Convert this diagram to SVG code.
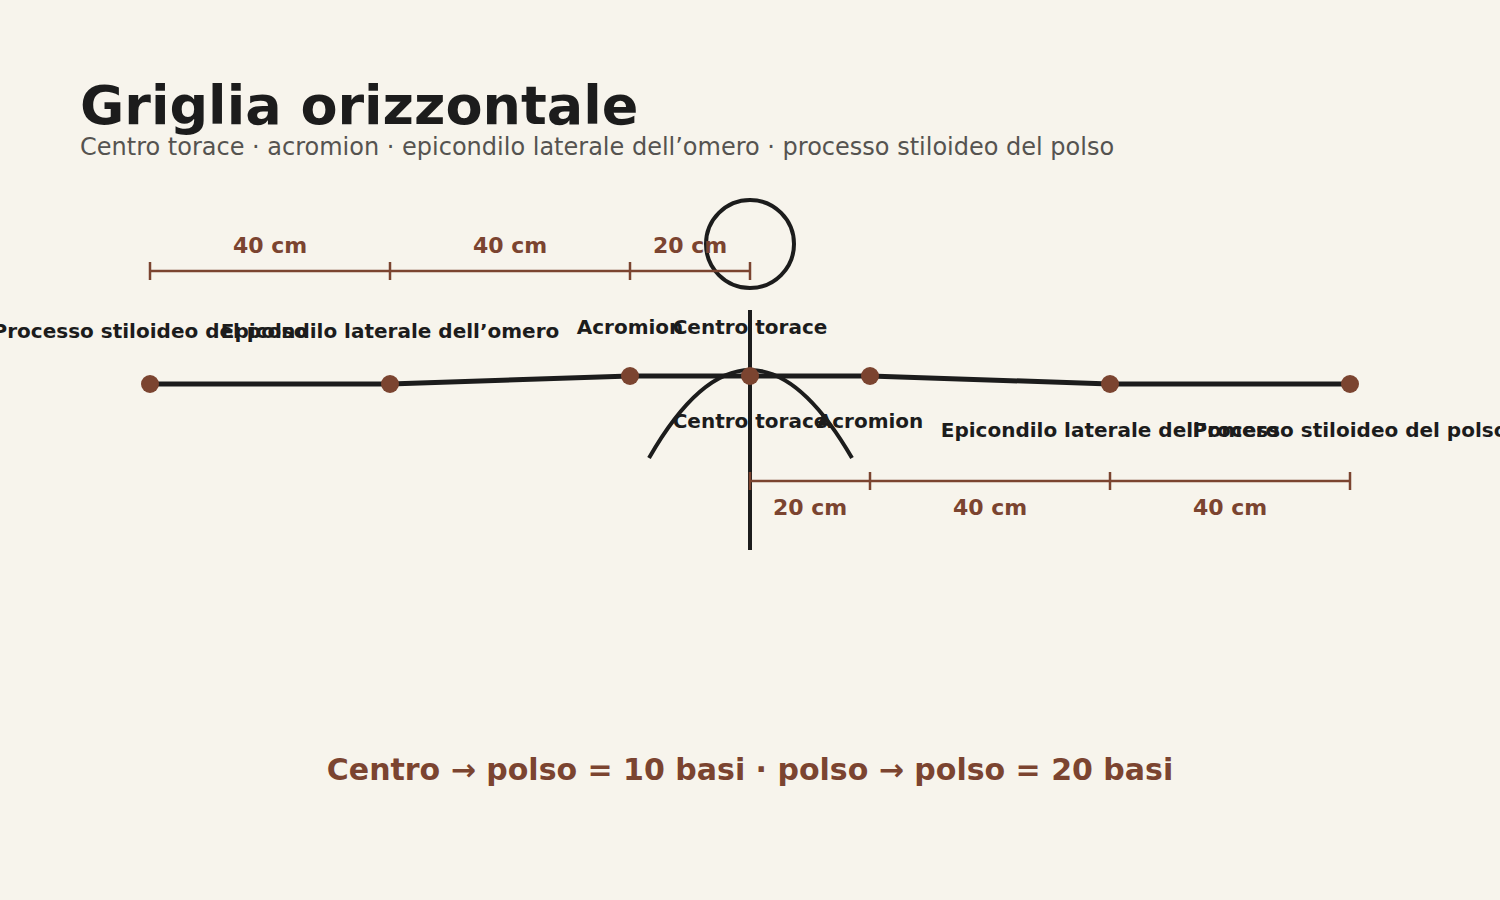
<svg xmlns="http://www.w3.org/2000/svg" width="1500" height="900" viewBox="0 0 1500 900">
<style>
.bg{fill:#f7f4ec}
.title{font-family:"DejaVu Sans",sans-serif;font-weight:bold;font-size:54px;fill:#1c1c1c}
.sub{font-family:"DejaVu Sans",sans-serif;font-size:24px;fill:#555350}
.lbl{font-family:"DejaVu Sans",sans-serif;font-weight:bold;font-size:20px;fill:#1c1c1c;text-anchor:middle}
.dim{font-family:"DejaVu Sans",sans-serif;font-weight:bold;font-size:22px;fill:#7b4430;text-anchor:middle}
.foot{font-family:"DejaVu Sans",sans-serif;font-weight:bold;font-size:30px;fill:#7b4430;text-anchor:middle}
.body{fill:none;stroke:#1c1c1c;stroke-width:4}
.arm{fill:none;stroke:#1c1c1c;stroke-width:5;stroke-linejoin:round}
.scale{fill:none;stroke:#7b4430;stroke-width:2.5}
.dot{fill:#7b4430}
</style>
<rect class="bg" x="0" y="0" width="1500" height="900"/>
<text class="title" x="80" y="124">Griglia orizzontale</text>
<text class="sub" x="80" y="155">Centro torace · acromion · epicondilo laterale dell’omero · processo stiloideo del polso</text>
<g id="figure">
<circle class="body" cx="750" cy="244" r="44" stroke-width="3.5"/>
<line class="body" x1="750" y1="310" x2="750" y2="550"/>
<path class="body" d="M649,458 Q750,282 852,458" stroke-width="3.5"/>
</g>
<g id="connectors">
<polyline class="arm" points="150,384 390,384 630,376 750,376 870,376 1110,384 1350,384"/>
<g id="scale-top">
<path class="scale" d="M150,271 H750 M150,262 V280 M390,262 V280 M630,262 V280 M750,262 V280"/>
<text class="dim" x="270" y="253">40 cm</text>
<text class="dim" x="510" y="253">40 cm</text>
<text class="dim" x="690" y="253">20 cm</text>
</g>
<g id="scale-bottom">
<path class="scale" d="M750,481 H1350 M750,472 V490 M870,472 V490 M1110,472 V490 M1350,472 V490"/>
<text class="dim" x="810" y="515">20 cm</text>
<text class="dim" x="990" y="515">40 cm</text>
<text class="dim" x="1230" y="515">40 cm</text>
</g>
</g>
<g id="n-polso-l"><circle class="dot" cx="150" cy="384" r="9"/><text class="lbl" x="150" y="338">Processo stiloideo del polso</text></g>
<g id="n-epi-l"><circle class="dot" cx="390" cy="384" r="9"/><text class="lbl" x="390" y="338">Epicondilo laterale dell’omero</text></g>
<g id="n-acr-l"><circle class="dot" cx="630" cy="376" r="9"/><text class="lbl" x="630" y="334">Acromion</text></g>
<g id="n-centro"><circle class="dot" cx="750" cy="376" r="9"/><text class="lbl" x="750" y="334">Centro torace</text><text class="lbl" x="750" y="428">Centro torace</text></g>
<g id="n-acr-r"><circle class="dot" cx="870" cy="376" r="9"/><text class="lbl" x="870" y="428">Acromion</text></g>
<g id="n-epi-r"><circle class="dot" cx="1110" cy="384" r="9"/><text class="lbl" x="1110" y="437">Epicondilo laterale dell’omero</text></g>
<g id="n-polso-r"><circle class="dot" cx="1350" cy="384" r="9"/><text class="lbl" x="1350" y="437">Processo stiloideo del polso</text></g>
<text class="foot" x="750" y="780">Centro → polso = 10 basi · polso → polso = 20 basi</text>
</svg>
